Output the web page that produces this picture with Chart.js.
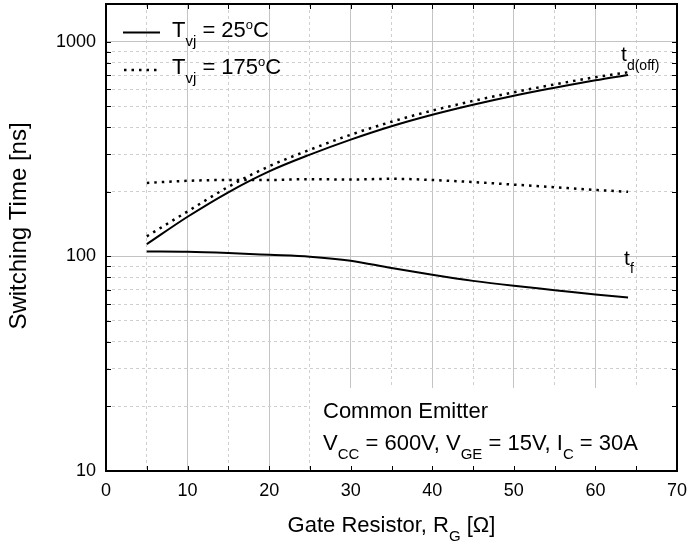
<!DOCTYPE html>
<html lang="en">
<head>
  <meta charset="UTF-8">
  <title>Switching Time vs Gate Resistor</title>
  <style>
    body { margin: 0; background: #fff; }
    #wrap { width: 687px; height: 545px; }
  </style>
</head>
<body>
  <div id="wrap"><canvas id="chart" width="687" height="545"></canvas></div>

  <script src="https://cdn.jsdelivr.net/npm/chart.js"></script>
  <script>
    // gate resistor values [ohm]
    const rg = [5, 10, 15, 20, 25, 30, 35, 40, 45, 50, 55, 60, 64];
    // switching times [ns]
    const tdOff25 = [114, 153, 199, 249, 298, 350, 404, 457, 509, 561, 611, 662, 701];
    const tdOff175 = [124, 162, 211, 263, 314, 369, 424, 478, 530, 582, 633, 684, 721];
    const tf25 = [105.4, 105, 103.6, 101.7, 99.7, 95.5, 88.2, 82.1, 76.9, 72.9, 69.6, 66.4, 64.3];
    const tf175 = [220, 225, 227, 227, 229, 228, 230, 227, 222, 216, 210, 204, 200];

    const xMajor = [0, 10, 20, 30, 40, 50, 60, 70];
    const xMinor = [5, 15, 25, 35, 45, 55, 65];
    const yMajor = [10, 100, 1000];
    const yMinor = [20, 30, 40, 50, 60, 70, 80, 90, 200, 300, 400, 500, 600, 700, 800, 900];

    const FONT = '"Liberation Sans", Arial, sans-serif';

    function pts(ys) { return rg.map((x, i) => ({ x: x, y: ys[i] })); }

    // draws text with sub/superscript parts, returns width
    function rich(ctx, x, y, parts, size, dryRun) {
      let cx = x;
      for (const [t, m] of parts) {
        let fs = size, dy = 0;
        if (m === 'sub') { fs = Math.round(size * 0.66); dy = size * 0.4; }
        if (m === 'sup') { fs = Math.round(size * 0.6); dy = -size * 0.36; }
        ctx.font = fs + 'px ' + FONT;
        if (!dryRun) ctx.fillText(t, cx, y + dy);
        cx += ctx.measureText(t).width;
      }
      return cx - x;
    }

    const decorations = {
      id: 'decorations',
      beforeDatasetsDraw(chart) {
        const { ctx, chartArea: a } = chart;
        // white box behind the test conditions
        ctx.save();
        ctx.fillStyle = '#fff';
        ctx.fillRect(310, 388, a.right - 310, a.bottom - 388);
        ctx.restore();
      },
      afterDraw(chart) {
        const { ctx, chartArea: a, scales } = chart;
        const xs = scales.x, ys = scales.y;
        ctx.save();
        ctx.fillStyle = '#000';
        ctx.textBaseline = 'alphabetic';

        // inner tick marks
        ctx.strokeStyle = '#000';
        ctx.lineWidth = 1;
        ctx.beginPath();
        xMinor.concat(xMajor).forEach(v => {
          const p = Math.round(xs.getPixelForValue(v)) + 0.5;
          ctx.moveTo(p, a.bottom); ctx.lineTo(p, a.bottom - 5);
          ctx.moveTo(p, a.top); ctx.lineTo(p, a.top + 5);
        });
        yMinor.concat(yMajor).forEach(v => {
          const p = Math.round(ys.getPixelForValue(v)) + 0.5;
          ctx.moveTo(a.left, p); ctx.lineTo(a.left + 5, p);
          ctx.moveTo(a.right, p); ctx.lineTo(a.right - 5, p);
        });
        ctx.stroke();

        // frame
        ctx.lineWidth = 2;
        ctx.strokeRect(a.left, a.top, a.right - a.left, a.bottom - a.top);

        // test conditions
        rich(ctx, 323, 418, [['Common Emitter', 'n']], 22);
        rich(ctx, 323, 450, [['V', 'n'], ['CC', 'sub'], [' = 600V, V', 'n'], ['GE', 'sub'],
          [' = 15V, I', 'n'], ['C', 'sub'], [' = 30A', 'n']], 22);

        // curve labels
        const xEnd = rg[rg.length - 1];
        rich(ctx, xs.getPixelForValue(xEnd) - 7, ys.getPixelForValue(tdOff175[tdOff175.length - 1]) - 11,
          [['t', 'n'], ['d(off)', 'sub']], 21);
        rich(ctx, xs.getPixelForValue(xEnd) - 4, ys.getPixelForValue(tf25[tf25.length - 1]) - 33,
          [['t', 'n'], ['f', 'sub']], 21);

        // legend
        ctx.lineWidth = 2;
        ctx.setLineDash([]);
        ctx.beginPath(); ctx.moveTo(123, 32.5); ctx.lineTo(160, 32.5); ctx.stroke();
        ctx.lineWidth = 2.5;
        ctx.setLineDash([2.5, 5]);
        ctx.beginPath(); ctx.moveTo(124, 70); ctx.lineTo(158, 70); ctx.stroke();
        ctx.setLineDash([]);
        rich(ctx, 172, 37, [['T', 'n'], ['vj', 'sub'], [' = 25', 'n'], ['o', 'sup'], ['C', 'n']], 22);
        rich(ctx, 172, 74, [['T', 'n'], ['vj', 'sub'], [' = 175', 'n'], ['o', 'sup'], ['C', 'n']], 22);

        // x axis title
        const xt = [['Gate Resistor, R', 'n'], ['G', 'sub'], [' [\u03A9]', 'n']];
        const w = rich(ctx, 0, 0, xt, 22, true);
        rich(ctx, (a.left + a.right) / 2 - w / 2, 532, xt, 22);

        // y axis title
        ctx.translate(26, 226);
        ctx.rotate(-Math.PI / 2);
        ctx.textAlign = 'center';
        ctx.font = '24px ' + FONT;
        ctx.fillText('Switching Time [ns]', 0, 0);
        ctx.restore();
      }
    };

    const line = (label, data, dashed) => ({
      label: label,
      data: pts(data),
      borderColor: '#000',
      borderWidth: dashed ? 2.5 : 2,
      borderDash: dashed ? [2.5, 5] : [],
      pointRadius: 0,
      cubicInterpolationMode: 'monotone',
      fill: false
    });

    const noPadX = s => { s.paddingLeft = 0; s.paddingRight = 0; };
    const noPadY = s => { s.paddingTop = 0; s.paddingBottom = 0; };

    new Chart(document.getElementById('chart').getContext('2d'), {
      type: 'line',
      data: {
        datasets: [
          line('td(off) 25C', tdOff25, false),
          line('td(off) 175C', tdOff175, true),
          line('tf 25C', tf25, false),
          line('tf 175C', tf175, true)
        ]
      },
      options: {
        responsive: false,
        animation: false,
        layout: { padding: { left: 0, top: 4, right: 10, bottom: 0 } },
        plugins: { legend: { display: false }, tooltip: { enabled: false } },
        scales: {
          x: {
            type: 'linear', min: 0, max: 70,
            afterBuildTicks: s => { s.ticks = xMajor.map(v => ({ value: v })); },
            afterFit: s => { s.height = 74; noPadX(s); },
            ticks: { padding: 9, color: '#000', font: { family: FONT, size: 18 }, maxRotation: 0 },
            grid: { color: '#c4c4c4', lineWidth: 1, drawTicks: false },
            border: { display: false }
          },
          x2: {
            type: 'linear', min: 0, max: 70, position: 'bottom',
            afterBuildTicks: s => { s.ticks = xMinor.map(v => ({ value: v })); },
            afterFit: s => { s.height = 0; noPadX(s); },
            ticks: { display: false },
            grid: { color: '#cfcfcf', lineWidth: 1, drawTicks: false },
            border: { display: false, dash: [3, 3] }
          },
          y: {
            type: 'logarithmic', min: 10, max: 1500,
            afterBuildTicks: s => { s.ticks = yMajor.map(v => ({ value: v })); },
            afterFit: s => { s.width = 106; noPadY(s); },
            ticks: { padding: 10, color: '#000', font: { family: FONT, size: 18 }, callback: v => String(v) },
            grid: { color: '#c4c4c4', lineWidth: 1, drawTicks: false },
            border: { display: false }
          },
          y2: {
            type: 'logarithmic', min: 10, max: 1500, position: 'left',
            afterBuildTicks: s => { s.ticks = yMinor.map(v => ({ value: v })); },
            afterFit: s => { s.width = 0; noPadY(s); },
            ticks: { display: false },
            grid: { color: '#cfcfcf', lineWidth: 1, drawTicks: false },
            border: { display: false, dash: [3, 3] }
          }
        }
      },
      plugins: [decorations]
    });
  </script>
</body>
</html>
